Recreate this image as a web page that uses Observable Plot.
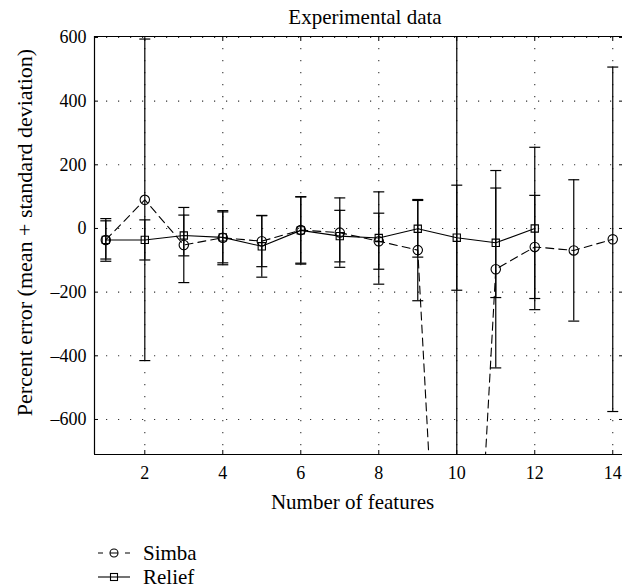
<!DOCTYPE html>
<html><head><meta charset="utf-8">
<script src="https://cdn.jsdelivr.net/npm/d3@7"></script>
<script src="https://cdn.jsdelivr.net/npm/@observablehq/plot@0.6"></script>
<style>
body{margin:0;background:#fff;}
#wrap{position:relative;width:622px;height:587px;font-family:"Liberation Serif",serif;color:#000;overflow:hidden;}
#title{position:absolute;left:94px;width:542px;top:7px;text-align:center;font-size:21px;line-height:1;}
#legend{position:absolute;left:98px;top:541px;font-size:21px;}
.row{display:flex;align-items:center;height:24px;}
.row svg{margin-right:13px;}
</style></head><body>
<div id="wrap"><div id="chart"></div><div id="title">Experimental data</div><div id="legend"></div></div>
<script>
// ---- data ----
const simbaFeatures = [1, 2, 3, 4, 5, 6, 7, 8, 9, 10, 11, 12, 13, 14];
const simbaMean = [-36, 90, -52, -29, -40, -5, -13, -40, -68, -2350, -128, -58, -69, -34];
const simbaSd = [60, 505, 118, 85, 80, 104, 109, 88, 159, 3200, 310, 162, 222, 541];
const reliefFeatures = [1, 2, 3, 4, 5, 6, 7, 8, 9, 10, 11, 12];
const reliefMean = [-36, -36, -22, -28, -56, -6, -24, -30, -1, -29, -45, 0];
const reliefSd = [67, 63, 64, 80, 97, 106, 81, 145, 89, 165, 172, 255];
const xTicks = [2, 4, 6, 8, 10, 12, 14];
const yTicks = [-600, -400, -200, 0, 200, 400, 600];
const seriesNames = ["Simba", "Relief"];

const simba = simbaFeatures.map((x, i) => ({x, m: simbaMean[i], s: simbaSd[i]}));
const relief = reliefFeatures.map((x, i) => ({x, m: reliefMean[i], s: reliefSd[i]}));

const xDomain = [0.71, 14.25];
const yDomain = [-710, 603];

const cap = {draw(context, size) { const w = Math.sqrt(size / Math.PI); context.moveTo(-w, 0); context.lineTo(w, 0); }};
const fmt = d => d < 0 ? "\u2013" + Math.abs(d) : String(d);

function errorMarks(data) {
  return [
    Plot.ruleX(data, {x: "x", y1: d => d.m - d.s, y2: d => d.m + d.s, stroke: "#000", strokeWidth: 1.2, clip: true}),
    Plot.dot(data, {x: "x", y: d => d.m + d.s, symbol: cap, r: 5.5, stroke: "#000", strokeWidth: 1.2, fill: "none", clip: true}),
    Plot.dot(data, {x: "x", y: d => d.m - d.s, symbol: cap, r: 5.5, stroke: "#000", strokeWidth: 1.2, fill: "none", clip: true})
  ];
}

const chart = Plot.plot({
  width: 622,
  height: 520,
  marginTop: 36,
  marginLeft: 94,
  marginRight: 0,
  marginBottom: 66,
  style: {fontFamily: "Liberation Serif", fontSize: "18px", background: "#fff", color: "#000"},
  x: {domain: xDomain},
  y: {domain: yDomain},
  marks: [
    Plot.gridX(xTicks, {stroke: "#000", strokeOpacity: 0.8, strokeWidth: 1.1, strokeDasharray: "1.2,10.8"}),
    Plot.gridY(yTicks, {stroke: "#000", strokeOpacity: 0.8, strokeWidth: 1.1, strokeDasharray: "1.2,10.8"}),
    Plot.axisX(xTicks, {anchor: "bottom", tickSize: 0, tickPadding: 12, tickFormat: fmt, fontSize: 18, label: null}),
    Plot.axisY(yTicks, {anchor: "left", tickSize: 0, tickPadding: 8, tickFormat: fmt, fontSize: 18, label: null}),
    Plot.axisX(xTicks, {anchor: "bottom", tickSize: -4, tickFormat: () => "", label: null}),
    Plot.axisX(xTicks, {anchor: "top", tickSize: -4, tickFormat: () => "", label: null}),
    Plot.axisY(yTicks, {anchor: "left", tickSize: -4, tickFormat: () => "", label: null}),
    Plot.axisY(yTicks, {anchor: "right", tickSize: -4, tickFormat: () => "", label: null}),
    Plot.ruleX([xDomain[0]], {stroke: "#000", strokeWidth: 1.2}),
    Plot.ruleY([yDomain[0], yDomain[1]], {stroke: "#000", strokeWidth: 1.2}),
    ...errorMarks(simba),
    ...errorMarks(relief),
    Plot.line(simba, {x: "x", y: "m", stroke: "#000", strokeWidth: 1.1, strokeDasharray: "8,5", clip: true}),
    Plot.line(relief, {x: "x", y: "m", stroke: "#000", strokeWidth: 1.1, clip: true}),
    Plot.dot(simba, {x: "x", y: "m", symbol: "circle", r: 4.7, stroke: "#000", strokeWidth: 1.1, fill: "none", clip: true}),
    Plot.dot(relief, {x: "x", y: "m", symbol: "square", r: 4.1, stroke: "#000", strokeWidth: 1.1, fill: "none", clip: true}),
    Plot.text(["Number of features"], {text: d => d, frameAnchor: "bottom", textAnchor: "middle", dy: 54, dx: -6, fontSize: 21}),
    Plot.text(["Percent error (mean + standard deviation)"], {text: d => d, frameAnchor: "left", textAnchor: "middle", rotate: -90, dx: -70, dy: -13, fontSize: 22})
  ]
});
document.getElementById("chart").appendChild(chart);

// legend
const legend = document.getElementById("legend");
const ns = "http://www.w3.org/2000/svg";
seriesNames.forEach((name, i) => {
  const row = document.createElement("div");
  row.className = "row";
  const svg = document.createElementNS(ns, "svg");
  svg.setAttribute("width", 32); svg.setAttribute("height", 16);
  const line = document.createElementNS(ns, "line");
  line.setAttribute("x1", 0); line.setAttribute("x2", 32); line.setAttribute("y1", 8); line.setAttribute("y2", 8);
  line.setAttribute("stroke", "#000"); line.setAttribute("stroke-width", 1.1);
  if (i === 0) line.setAttribute("stroke-dasharray", "5,7,8,7,5");
  svg.appendChild(line);
  if (i === 0) {
    const c = document.createElementNS(ns, "circle");
    c.setAttribute("cx", 16); c.setAttribute("cy", 8); c.setAttribute("r", 4);
    c.setAttribute("fill", "none"); c.setAttribute("stroke", "#000"); c.setAttribute("stroke-width", 1.1);
    svg.appendChild(c);
  } else {
    const r = document.createElementNS(ns, "rect");
    r.setAttribute("x", 12.5); r.setAttribute("y", 4.5); r.setAttribute("width", 7); r.setAttribute("height", 7);
    r.setAttribute("fill", "none"); r.setAttribute("stroke", "#000"); r.setAttribute("stroke-width", 1.1);
    svg.appendChild(r);
  }
  row.appendChild(svg);
  const t = document.createElement("span");
  t.textContent = name;
  row.appendChild(t);
  legend.appendChild(row);
});
</script>
</body></html>
